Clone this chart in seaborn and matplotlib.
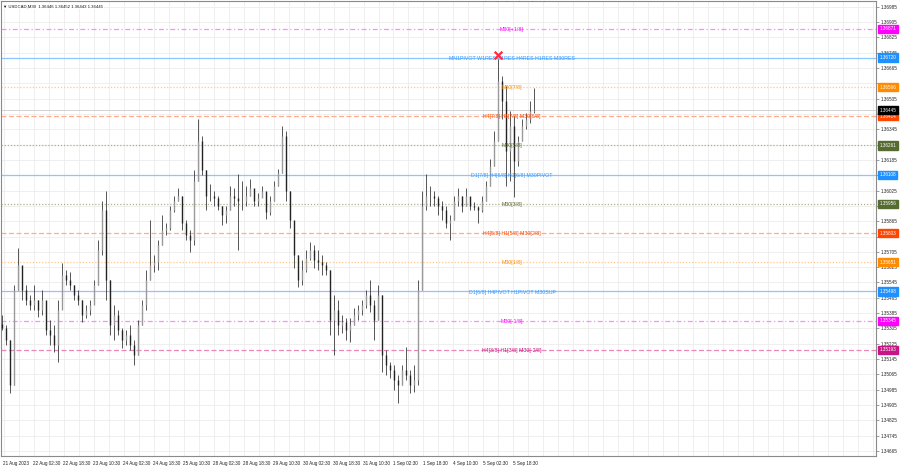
import numpy as np
import matplotlib
matplotlib.use("Agg")
import matplotlib.pyplot as plt
import seaborn as sns

# USDCAD M30 - each column below summarises ~4 M30 bars
highs = [1.35374, 1.35321, 1.35243, 1.35530, 1.35723, 1.35608, 1.35530, 1.35478, 1.35530, 1.35452,
         1.35504, 1.35400, 1.35348, 1.35321, 1.35452, 1.35645, 1.35608, 1.35598, 1.35530, 1.35504,
         1.35452, 1.35426, 1.35452, 1.35556, 1.35765, 1.35973, 1.36025, 1.35556, 1.35426, 1.35400,
         1.35306, 1.35295, 1.35321, 1.35243, 1.35348, 1.35452, 1.35608, 1.35869, 1.35686, 1.35765,
         1.35895, 1.35858, 1.35947, 1.35999, 1.36036, 1.35999, 1.35869, 1.35817, 1.36130, 1.36401,
         1.36312, 1.36130, 1.36062, 1.36025, 1.35999, 1.35947, 1.35947, 1.36051, 1.36036, 1.36114,
         1.36077, 1.36051, 1.36088, 1.36025, 1.36010, 1.36051, 1.35999, 1.35999, 1.36077, 1.36140,
         1.36364, 1.36338, 1.36025, 1.35843, 1.35686, 1.35660, 1.35712, 1.35754, 1.35739, 1.35712,
         1.35686, 1.35650, 1.35608, 1.35478, 1.35452, 1.35374, 1.35358, 1.35358, 1.35410, 1.35426,
         1.35452, 1.35504, 1.35556, 1.35452, 1.35530, 1.35478, 1.35191, 1.35129, 1.35113, 1.35061,
         1.35113, 1.35207, 1.35087, 1.35113, 1.35556, 1.36025, 1.36114, 1.36051, 1.36025, 1.35999,
         1.35973, 1.35947, 1.35895, 1.35999, 1.36036, 1.35999, 1.36036, 1.35973, 1.35963, 1.35947,
         1.35999, 1.36077, 1.36192, 1.36338, 1.36714, 1.36625, 1.36573, 1.36442, 1.36416, 1.36312,
         1.36401, 1.36432, 1.36495, 1.36562]
lows = [1.35295, 1.35217, 1.34967, 1.35009, 1.35504, 1.35452, 1.35426, 1.35400, 1.35400, 1.35363,
        1.35374, 1.35269, 1.35217, 1.35181, 1.35129, 1.35452, 1.35530, 1.35504, 1.35452, 1.35426,
        1.35337, 1.35358, 1.35374, 1.35452, 1.35530, 1.35686, 1.35452, 1.35269, 1.35243, 1.35269,
        1.35202, 1.35217, 1.35191, 1.35113, 1.35165, 1.35321, 1.35400, 1.35556, 1.35598, 1.35608,
        1.35739, 1.35791, 1.35817, 1.35911, 1.35973, 1.35817, 1.35765, 1.35702, 1.35739, 1.36077,
        1.36104, 1.35921, 1.35973, 1.35947, 1.35921, 1.35843, 1.35858, 1.35921, 1.35947, 1.35712,
        1.35921, 1.35947, 1.35999, 1.35947, 1.35947, 1.35989, 1.35879, 1.35895, 1.35973, 1.36051,
        1.36119, 1.35973, 1.35827, 1.35619, 1.35520, 1.35530, 1.35598, 1.35660, 1.35619, 1.35608,
        1.35582, 1.35582, 1.35269, 1.35165, 1.35269, 1.35280, 1.35243, 1.35233, 1.35321, 1.35348,
        1.35374, 1.35410, 1.35389, 1.35243, 1.35348, 1.35076, 1.35061, 1.35045, 1.34983, 1.34915,
        1.35009, 1.35035, 1.34967, 1.34972, 1.35009, 1.35504, 1.35921, 1.35947, 1.35947, 1.35895,
        1.35869, 1.35827, 1.35765, 1.35869, 1.35947, 1.35911, 1.35947, 1.35921, 1.35921, 1.35858,
        1.35911, 1.35973, 1.36051, 1.36156, 1.36286, 1.36401, 1.36051, 1.36077, 1.35989, 1.36156,
        1.36286, 1.36349, 1.36380, 1.36432]
closes = [1.35306, 1.35243, 1.35009, 1.35504, 1.35634, 1.35504, 1.35452, 1.35426, 1.35452, 1.35400,
          1.35452, 1.35295, 1.35269, 1.35217, 1.35400, 1.35582, 1.35556, 1.35530, 1.35478, 1.35452,
          1.35374, 1.35400, 1.35426, 1.35530, 1.35712, 1.35921, 1.35556, 1.35321, 1.35374, 1.35295,
          1.35243, 1.35269, 1.35217, 1.35165, 1.35321, 1.35426, 1.35556, 1.35634, 1.35650, 1.35739,
          1.35817, 1.35827, 1.35921, 1.35973, 1.35999, 1.35858, 1.35791, 1.35765, 1.36077, 1.36286,
          1.36130, 1.35999, 1.35999, 1.35984, 1.35947, 1.35895, 1.35921, 1.35999, 1.35984, 1.35973,
          1.35973, 1.35999, 1.36036, 1.35973, 1.35984, 1.36025, 1.35911, 1.35973, 1.36051, 1.36119,
          1.36312, 1.36025, 1.35869, 1.35686, 1.35556, 1.35608, 1.35671, 1.35712, 1.35660, 1.35650,
          1.35634, 1.35608, 1.35348, 1.35400, 1.35321, 1.35337, 1.35295, 1.35321, 1.35374, 1.35400,
          1.35426, 1.35478, 1.35426, 1.35348, 1.35478, 1.35165, 1.35113, 1.35087, 1.35035, 1.35009,
          1.35087, 1.35061, 1.35009, 1.35035, 1.35504, 1.35947, 1.35999, 1.35999, 1.35984, 1.35947,
          1.35921, 1.35858, 1.35869, 1.35973, 1.35999, 1.35947, 1.35999, 1.35947, 1.35937, 1.35921,
          1.35973, 1.36051, 1.36156, 1.36286, 1.36599, 1.36495, 1.36234, 1.36364, 1.36182, 1.36286,
          1.36364, 1.36401, 1.36442, 1.36448]
first_open = 1.35330

# murrey / pivot levels drawn across the chart
level_prices = [1.37024, 1.36871, 1.36720, 1.36566, 1.36414, 1.36261, 1.36108,
                1.35956, 1.35803, 1.35651, 1.35498, 1.35345, 1.35193]
level_names = ["H4[+1/8] H1[+1/8] M30[+2/8]", "M30[+1/8]",
               "MN1PIVOT W1RES D1RES H4RES H1RES M30RES", "M30[7/8]",
               "H4[7/8] H1[7/8] M30[6/8]", "M30[5/8]", "D1[7/8] H4[6/8] H1[6/8] M30PIVOT",
               "M30[3/8]", "H4[5/8] H1[5/8] M30[2/8]", "M30[1/8]",
               "D1[6/8] H4PIVOT H1PIVOT M30SUP", "M30[-1/8]", "H4[3/8] H1[3/8] M30[-2/8]"]
level_kinds = ["mag", "mag", "blue", "orange", "red", "olive", "blue",
               "olive", "red", "orange", "blue", "mag", "pink"]

date_labels = ["21 Aug 2023", "22 Aug 02:30", "22 Aug 18:30", "23 Aug 10:30", "24 Aug 02:30",
               "24 Aug 18:30", "25 Aug 10:30", "28 Aug 02:30", "28 Aug 18:30", "29 Aug 10:30",
               "30 Aug 02:30", "30 Aug 18:30", "31 Aug 10:30", "1 Sep 02:30", "1 Sep 18:30",
               "4 Sep 10:30", "5 Sep 02:30", "5 Sep 18:30"]

last_price = 1.36445
header = "\u25bc USDCAD,M30  1.36446 1.36452 1.36443 1.36445"

styles = {
    "mag": dict(line="#ff8cff", ls=(0, (4, 2, 1, 2)), text="#ff00ff", tag="#ff00ff"),
    "blue": dict(line="#8cc6ff", ls="-", text="#3399ff", tag="#1e90ff"),
    "orange": dict(line="#ffc890", ls=(0, (1, 1.5)), text="#ff8c00", tag="#ff8c00"),
    "red": dict(line="#ffab8c", ls=(0, (4, 2)), text="#ff4500", tag="#ff4500"),
    "olive": dict(line="#b0b08a", ls=(0, (1, 1.5)), text="#556b2f", tag="#556b2f"),
    "pink": dict(line="#ea88b8", ls=(0, (4, 2)), text="#c71585", tag="#c71585"),
}

sns.set_theme(style="white")
plt.rcParams['font.family'] = ['Liberation Sans', 'DejaVu Sans']

fig = plt.figure(figsize=(9, 4.68), dpi=100)
ax = fig.add_axes([0.0015, 0.0256, 0.972, 0.9724])

n = len(closes)
xs = np.arange(n)
opens = np.array([first_open] + closes[:-1])
closes_a = np.array(closes)

# vertical grid (every 15 px of the original chart)
for gx in np.arange(0.42, 219, 3.75):
    ax.axvline(gx, color="#ececec", lw=0.6, zorder=0)

yticks = np.round(np.arange(1.36985, 1.3466, -0.0008), 5)
ax.set_yticks(yticks)
ax.yaxis.grid(True, color="#ececec", lw=0.6)
ax.set_axisbelow(True)

# levels
for price, name, kind in zip(level_prices, level_names, level_kinds):
    st = styles[kind]
    ax.axhline(price, color=st["line"], ls=st["ls"], lw=0.9, zorder=1)
    ax.text(127.6, price - 0.00003, name, color=st["text"], fontsize=3.8,
            ha="center", va="center", zorder=6, clip_on=True)
ax.axhline(last_price, color="#cccccc", lw=0.6, zorder=1)

# candles
up = closes_a >= opens
ax.vlines(xs, lows, highs, color="#3a3a3a", lw=0.6, zorder=3)
ax.vlines(xs[up], opens[up], closes_a[up], color="#9a9a9a", lw=1.0, zorder=4)
ax.vlines(xs[~up], opens[~up], closes_a[~up], color="#222222", lw=1.0, zorder=4)

# red cross above the top
top_i = int(np.argmax(highs))
sns.scatterplot(x=[top_i], y=[max(highs) + 0.0002], marker="x", s=30, color="#ff2a40",
                linewidth=1.6, ax=ax, zorder=7, legend=False)

ax.set_xlim(-0.25, 218.75)
ax.set_ylim(1.34638, 1.37016)

tags = [(1.36871, "mag"), (1.36720, "blue"), (1.36566, "orange"), (1.36414, "red"),
        (1.36261, "olive"), (1.36108, "blue"), (1.35956, "olive"), (1.35803, "red"),
        (1.35651, "orange"), (1.35498, "blue"), (1.35345, "mag"), (1.35193, "pink")]
tag_prices = [p for p, _ in tags] + [last_price]

# right price scale; labels hidden under a price tag are left out
ylabels = []
for t in yticks:
    hidden = any(abs(t - p) < 0.0002 for p in tag_prices)
    ylabels.append("" if hidden else f"{t:.5f}")
ax.yaxis.tick_right()
ax.set_yticklabels(ylabels, fontsize=3.3, color="#222222")
ax.tick_params(axis="y", length=2, width=0.5, pad=1.5, color="#777777")

for price, kind in tags:
    ax.text(1.0035, price, f"{price:.5f}", transform=ax.get_yaxis_transform(),
            fontsize=3.3, color="white", ha="left", va="center", zorder=10, clip_on=False,
            bbox=dict(boxstyle="square,pad=0.35", fc=styles[kind]["tag"], ec=styles[kind]["tag"]))
ax.text(1.0035, last_price, f"{last_price:.5f}", transform=ax.get_yaxis_transform(),
        fontsize=3.3, color="white", ha="left", va="center", zorder=10, clip_on=False,
        bbox=dict(boxstyle="square,pad=0.35", fc="black", ec="black"))

# time axis
xt = [0.05] + [7.75 + 7.5 * k for k in range(len(date_labels) - 1)]
ax.set_xticks(xt)
ax.set_xticklabels(date_labels, fontsize=3.35, color="#222222", ha="left")
ax.tick_params(axis="x", length=2, width=0.5, pad=1.5, color="#777777")

for s in ax.spines.values():
    s.set_color("#8a8a8a")
    s.set_linewidth(0.8)

ax.text(0.002, 0.993, header, transform=ax.transAxes, fontsize=3.1, color="#111111",
        ha="left", va="top", zorder=10,
        bbox=dict(boxstyle="square,pad=0.2", fc="white", ec="none"))

fig.savefig("out.png", dpi=100)
